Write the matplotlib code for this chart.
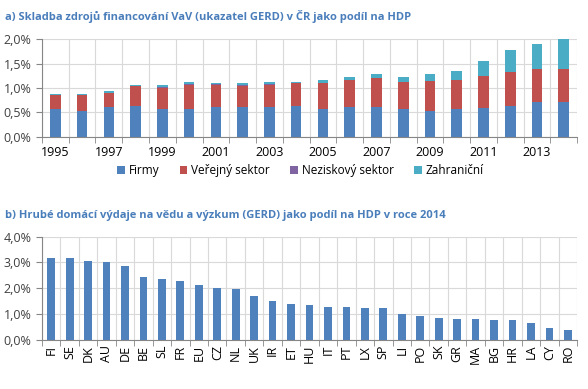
import numpy as np
import matplotlib.pyplot as plt
from matplotlib.ticker import FuncFormatter, MultipleLocator

plt.rcParams['font.family'] = ['Open Sans', 'DejaVu Sans']

# a) sources of R&D funding, % of GDP
years = list(range(1995, 2015))
firmy = [0.56, 0.53, 0.60, 0.64, 0.56, 0.575, 0.60, 0.60, 0.60, 0.62,
         0.56, 0.61, 0.61, 0.56, 0.53, 0.56, 0.59, 0.64, 0.72, 0.72]
verejny = [0.29, 0.32, 0.30, 0.40, 0.45, 0.495, 0.47, 0.45, 0.47, 0.48,
           0.54, 0.55, 0.59, 0.56, 0.61, 0.60, 0.65, 0.68, 0.66, 0.66]
neziskovy = [0.003] * 20
zahranici = [0.03, 0.03, 0.04, 0.02, 0.04, 0.05, 0.03, 0.04, 0.05, 0.02,
             0.06, 0.07, 0.09, 0.11, 0.15, 0.18, 0.31, 0.45, 0.52, 0.62]

# b) GERD 2014, % of GDP
countries = ['FI', 'SE', 'DK', 'AU', 'DE', 'BE', 'SL', 'FR', 'EU', 'CZ',
             'NL', 'UK', 'IR', 'ET', 'HU', 'IT', 'PT', 'LX', 'SP', 'LI',
             'PO', 'SK', 'GR', 'MA', 'BG', 'HR', 'LA', 'CY', 'RO']
gerd = [3.16, 3.16, 3.06, 3.00, 2.86, 2.45, 2.37, 2.27, 2.13, 2.00,
        1.96, 1.69, 1.52, 1.41, 1.35, 1.28, 1.28, 1.25, 1.23, 1.00,
        0.92, 0.86, 0.81, 0.81, 0.79, 0.79, 0.67, 0.46, 0.37]

blue = '#4F81BD'
red = '#C0504D'
purple = '#8064A2'
cyan = '#4BACC6'
grid_c = '#D9D9D9'
axis_c = '#868686'
title_c = '#4A7EBB'
text_c = '#404040'

pct = FuncFormatter(lambda v, p: ('%.1f%%' % v).replace('.', ','))

fig = plt.figure(figsize=(5.88, 3.89), dpi=100)


def style(ax, n):
    ax.set_xlim(-0.5, n - 0.5)
    ax.set_xticks(np.arange(n + 1) - 0.5, minor=True)
    ax.grid(True, which='minor', axis='x', color=grid_c, lw=0.8)
    ax.grid(True, which='major', axis='y', color=grid_c, lw=0.8)
    ax.set_axisbelow(True)
    for s in ['top', 'right']:
        ax.spines[s].set_visible(False)
    for s in ['left', 'bottom']:
        ax.spines[s].set_color(axis_c)
    ax.yaxis.set_major_formatter(pct)
    ax.tick_params(axis='y', length=4, color=axis_c, labelsize=9, labelcolor=text_c)
    ax.tick_params(axis='x', which='major', length=0, labelsize=8.5, labelcolor='black')
    ax.tick_params(axis='x', which='minor', length=4, color=axis_c)


# top chart
ax1 = fig.add_axes([0.0714, 0.6486, 0.91, 0.2504])
x = np.arange(len(years))
w = 0.4
b1 = np.array(firmy)
b2 = b1 + np.array(verejny)
b3 = b2 + np.array(neziskovy)
ax1.bar(x, firmy, w, color=blue, label='Firmy')
ax1.bar(x, verejny, w, bottom=b1, color=red, label='Veřejný sektor')
ax1.bar(x, neziskovy, w, bottom=b2, color=purple, label='Neziskový sektor')
ax1.bar(x, zahranici, w, bottom=b3, color=cyan, label='Zahraniční')
style(ax1, len(years))
ax1.set_ylim(0, 2.0)
ax1.yaxis.set_major_locator(MultipleLocator(0.5))
ax1.set_xticks(x[::2])
ax1.set_xticklabels([str(y) for y in years[::2]])
ax1.tick_params(axis='x', which='major', labelsize=9, pad=7)
ax1.legend(loc='upper center', bbox_to_anchor=(0.483, -0.235), ncol=4, frameon=False,
           fontsize=8.5, handlelength=0.65, handleheight=0.65, handletextpad=0.3,
           columnspacing=1.75, borderaxespad=0)
fig.text(0.009, 0.958, 'a) Skladba zdrojů financování VaV (ukazatel GERD) v ČR jako podíl na HDP',
         fontsize=8, fontweight='bold', color=title_c, va='center')

# bottom chart
ax2 = fig.add_axes([0.0714, 0.126, 0.91, 0.2656])
x2 = np.arange(len(countries))
ax2.bar(x2, gerd, 0.42, color=blue)
style(ax2, len(countries))
ax2.set_ylim(0, 4.0)
ax2.yaxis.set_major_locator(MultipleLocator(1.0))
ax2.set_xticks(x2)
ax2.set_xticklabels(countries, rotation=90)
ax2.tick_params(axis='x', which='major', labelsize=9)
fig.text(0.009, 0.447, 'b) Hrubé domácí výdaje na vědu a výzkum (GERD) jako podíl na HDP v roce 2014',
         fontsize=8, fontweight='bold', color=title_c, va='center')

fig.savefig('out.png', dpi=100)
